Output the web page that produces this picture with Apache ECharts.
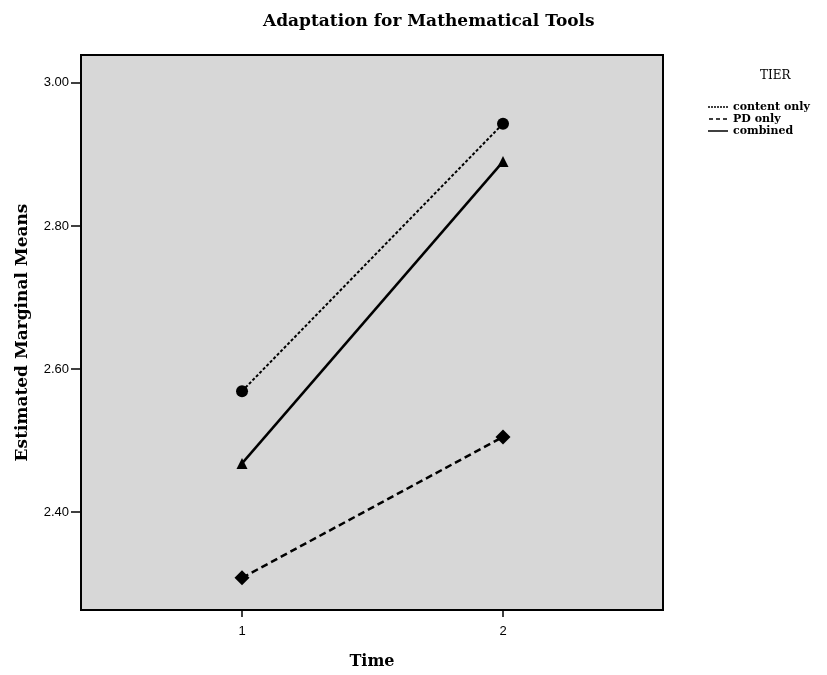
<!DOCTYPE html>
<html>
<head>
<meta charset="utf-8">
<script src="https://cdn.jsdelivr.net/npm/echarts@6/dist/echarts.min.js"></script>
<style>
  html, body { margin: 0; padding: 0; background: #fff; }
  #chart { width: 827px; height: 675px; }
</style>
</head>
<body>
<div id="chart"></div>
<script>
// estimated marginal means
const timePoints = [1, 2];
const contentOnly = [2.569, 2.943];
const pdOnly = [2.308, 2.505];
const combined = [2.468, 2.890];
const yTicks = [2.40, 2.60, 2.80, 3.00];
const tierNames = ['content only', 'PD only', 'combined'];

const serif = '"DejaVu Serif", "Liberation Serif", serif';
const sans = '"Liberation Sans", Arial, sans-serif';

const pairs = (ys) => ys.map((y, i) => [timePoints[i], y]);

// legend icons: dashed / solid line samples without markers
const iconShort = 'path://M0,0H2V1.5H0Z M3,0H5V1.5H3Z M6,0H8V1.5H6Z M9,0H11V1.5H9Z M12,0H14V1.5H12Z M15,0H17V1.5H15Z M18,0H20V1.5H18Z';
const iconLong = 'path://M0,0H4V1.5H0Z M7,0H11V1.5H7Z M14,0H18V1.5H14Z';
const iconSolid = 'path://M0,0H20V1.5H0Z';

const chart = echarts.init(document.getElementById('chart'));

chart.setOption({
  backgroundColor: '#fff',
  animation: false,
  title: [
    {
      text: 'Adaptation for Mathematical Tools',
      left: 258, top: 8,
      textStyle: { fontFamily: serif, fontWeight: 'bold', fontSize: 17, color: '#000' }
    },
    {
      text: 'TIER',
      left: 755, top: 65,
      textStyle: { fontFamily: serif, fontWeight: 'normal', fontSize: 12, color: '#000' }
    }
  ],
  legend: {
    orient: 'vertical',
    left: 703, top: 96,
    itemWidth: 20, itemHeight: 1.5, itemGap: 0,
    textStyle: { fontFamily: serif, fontWeight: 'bold', fontSize: 11, color: '#000', lineHeight: 12 },
    data: [
      { name: tierNames[0], icon: iconShort },
      { name: tierNames[1], icon: iconLong },
      { name: tierNames[2], icon: iconSolid }
    ]
  },
  grid: {
    left: 81, right: 164, top: 55, bottom: 65,
    show: true, backgroundColor: '#d7d7d7',
    borderColor: '#000', borderWidth: 2
  },
  xAxis: {
    type: 'value', min: 0.383, max: 2.613,
    name: 'Time', nameLocation: 'middle', nameGap: 44,
    nameTextStyle: { fontFamily: serif, fontWeight: 'bold', fontSize: 16, color: '#000' },
    axisLine: { show: false },
    axisTick: { show: true, length: 7, customValues: timePoints, lineStyle: { color: '#000', width: 1.5 } },
    axisLabel: { customValues: timePoints, fontFamily: sans, fontSize: 13, color: '#000', margin: 15 },
    splitLine: { show: false }
  },
  yAxis: {
    type: 'value', min: 2.263, max: 3.039,
    name: 'Estimated Marginal Means', nameLocation: 'middle', nameGap: 50,
    nameTextStyle: { fontFamily: serif, fontWeight: 'bold', fontSize: 17, color: '#000' },
    axisLine: { show: false },
    axisTick: { show: true, length: 10, customValues: yTicks, lineStyle: { color: '#000', width: 1.5 } },
    axisLabel: {
      customValues: yTicks, fontFamily: sans, fontSize: 13, color: '#000', margin: 12,
      formatter: (v) => v.toFixed(2)
    },
    splitLine: { show: false }
  },
  series: [
    {
      name: tierNames[0], type: 'line', data: pairs(contentOnly),
      symbol: 'circle', symbolSize: 12,
      lineStyle: { color: '#000', width: 2, type: [3, 2] },
      itemStyle: { color: '#000' }
    },
    {
      name: tierNames[1], type: 'line', data: pairs(pdOnly),
      symbol: 'diamond', symbolSize: 15,
      lineStyle: { color: '#000', width: 2.5, type: [7, 4] },
      itemStyle: { color: '#000' }
    },
    {
      name: tierNames[2], type: 'line', data: pairs(combined),
      symbol: 'triangle', symbolSize: 11,
      lineStyle: { color: '#000', width: 2.5 },
      itemStyle: { color: '#000' }
    }
  ]
});
</script>
</body>
</html>
